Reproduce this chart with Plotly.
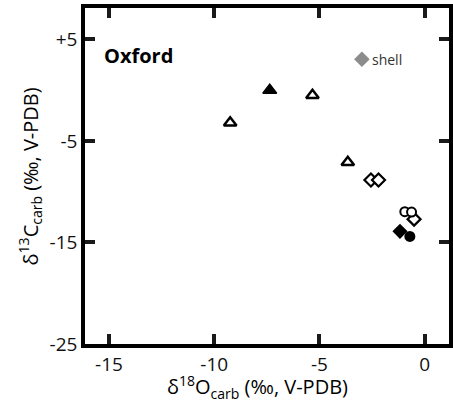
import plotly.graph_objects as go

# δ18O / δ13C carbonate isotope data (‰, V-PDB)
tri_open_x = [-9.24, -5.33, -3.65]
tri_open_y = [-3.2, -0.5, -7.1]
tri_fill_x = [-7.36]
tri_fill_y = [0.0]
dia_open_x = [-2.55, -2.19, -0.5]
dia_open_y = [-8.84, -8.84, -12.7]
dia_fill_x = [-1.17]
dia_fill_y = [-13.9]
circ_open_x = [-0.94, -0.62]
circ_open_y = [-11.97, -12.0]
circ_fill_x = [-0.7]
circ_fill_y = [-14.4]
shell_x = [-2.98]
shell_y = [3.05]

x_ticks = [-15, -10, -5, 0]
x_labels = ["-15", "-10", "-5", "0"]
y_ticks = [5, -5, -15, -25]
y_labels = ["+5", "-5", "-15", "-25"]

FONT = "Open Sans"

fig = go.Figure()

def add(x, y, symbol, size, fill, line_w, line_c="black"):
    fig.add_trace(go.Scatter(
        x=x, y=y, mode="markers",
        marker=dict(symbol=symbol, size=size, color=fill,
                    line=dict(width=line_w, color=line_c)),
        showlegend=False, hoverinfo="skip"))

add(tri_open_x, tri_open_y, "triangle-up", 11, "white", 2.5)
add(tri_fill_x, tri_fill_y, "triangle-up", 12, "black", 1.5)
add(dia_open_x, dia_open_y, "diamond", 10, "white", 2.2)
add(circ_open_x, circ_open_y, "circle", 9, "white", 2)
add(dia_fill_x, dia_fill_y, "diamond", 10, "black", 1.5)
add(circ_fill_x, circ_fill_y, "circle", 11, "black", 0)
add(shell_x, shell_y, "diamond", 12, "#8c8c8c", 0)

axis_style = dict(
    ticks="inside", ticklen=10, tickwidth=4, tickcolor="#1a1a1a",
    showline=True, linewidth=3.5, linecolor="#000000", mirror="ticks",
    showgrid=False, zeroline=False,
    tickfont=dict(family=FONT, size=19, color="#111111"),
)
fig.update_xaxes(range=[-16.14, 1.16], tickvals=x_ticks, ticktext=x_labels,
                 **axis_style)
fig.update_yaxes(range=[-25, 8.1], tickvals=y_ticks, ticktext=y_labels,
                 **axis_style)

fig.add_annotation(x=0.048, y=0.905, xref="paper", yref="paper",
                   text="<b>Oxford</b>", showarrow=False, xanchor="left",
                   font=dict(family=FONT, size=20, color="black"))
fig.add_annotation(x=-2.6, y=3.05, text="shell", showarrow=False,
                   xanchor="left", font=dict(family=FONT, size=14, color="#333333"))

fig.add_annotation(x=0.475, y=-0.128, xref="paper", yref="paper",
                   text="δ<sup>18</sup>O<sub>carb</sub> (‰, V-PDB)",
                   showarrow=False, yanchor="middle",
                   font=dict(family=FONT, size=20, color="black"))
fig.add_annotation(x=-0.15, y=0.5, xref="paper", yref="paper",
                   text="δ<sup>13</sup>C<sub>carb</sub> (‰, V-PDB)",
                   showarrow=False, textangle=-90, xanchor="center",
                   font=dict(family=FONT, size=20, color="black"))

fig.update_layout(
    width=453, height=402,
    margin=dict(l=85, r=0, t=8, b=58),
    plot_bgcolor="white", paper_bgcolor="white",
)

fig.write_html("out.html")
